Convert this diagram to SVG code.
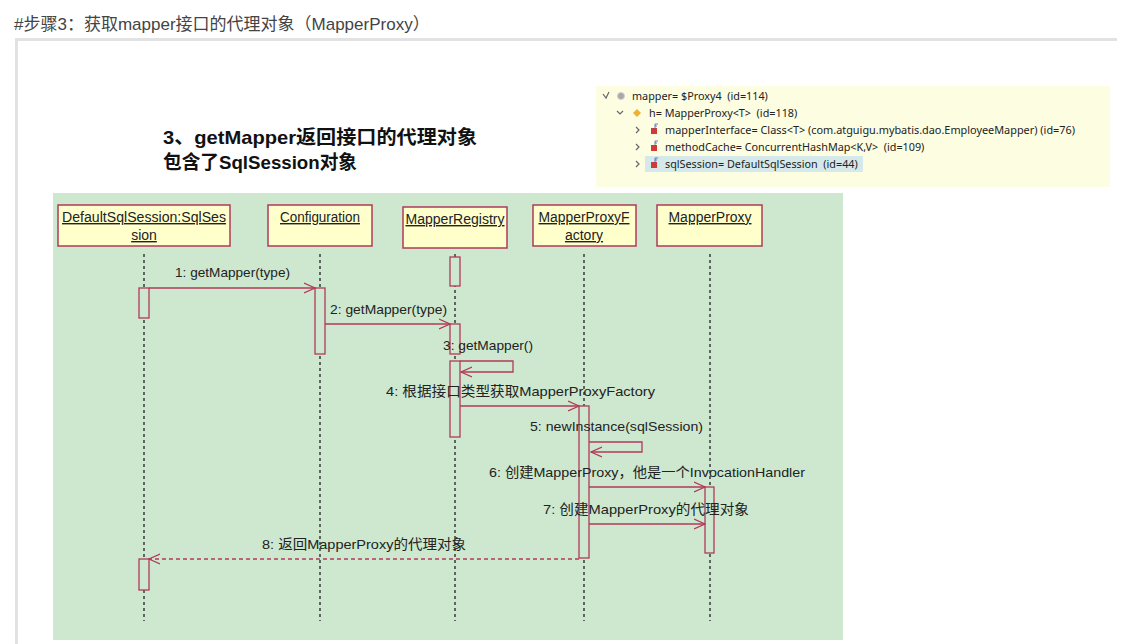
<svg xmlns="http://www.w3.org/2000/svg" width="1133" height="644" viewBox="0 0 1133 644">
<style>
.hdr{font-family:"Liberation Sans","Noto Sans CJK SC",sans-serif;font-size:17px;fill:#444}
.ttl{font-family:"Liberation Sans","Noto Sans CJK SC",sans-serif;font-size:19px;font-weight:bold;fill:#111}
.dbg{font-family:"Noto Sans","Open Sans",sans-serif;font-size:10.8px;fill:#222;white-space:pre}
.head rect{fill:#ffffcc;stroke:#b03a5b;stroke-width:1.5}
.head text{font-family:"Liberation Sans",sans-serif;font-size:14px;fill:#222;text-anchor:middle;text-decoration:underline}
.life{stroke:#222;stroke-width:1.3;stroke-dasharray:3,3;fill:none}
.bar{fill:#cde8cf;stroke:#b03a5b;stroke-width:1.3}
.msg{stroke:#b03a5b;stroke-width:1.3;fill:none}
.ret{stroke:#b03a5b;stroke-width:1.3;fill:none;stroke-dasharray:4,3}
.lbl{font-family:"Liberation Sans","Noto Sans CJK SC",sans-serif;font-size:13.5px;fill:#222}
.chev{fill:none;stroke:#666;stroke-width:1.2}
</style>
<defs>
<marker id="open" viewBox="0 0 12 12" refX="11" refY="6" markerWidth="12" markerHeight="12" markerUnits="userSpaceOnUse" orient="auto">
<path d="M0,1 L11,6 L0,11" fill="none" stroke="#b03a5b" stroke-width="1.3"/>
</marker>
<g id="fld">
<rect x="0" y="-3" width="6" height="6" fill="#d23a3a"/>
<path d="M4,-7 V-2 M4,-7 H7 M4,-5 H6" stroke="#3a5fc0" stroke-width="0.8" fill="none"/>
</g>
</defs>
<rect width="1133" height="644" fill="#ffffff"/>
<text class="hdr" x="14" y="30">#步骤3：获取mapper接口的代理对象（MapperProxy）</text>
<path d="M16.5,644 V39.5 H1117" fill="none" stroke="#e2e2e2" stroke-width="3"/>
<g id="title">
<text class="ttl" x="163" y="144" textLength="314" lengthAdjust="spacingAndGlyphs">3、getMapper返回接口的代理对象</text>
<text class="ttl" x="163" y="169" textLength="194" lengthAdjust="spacingAndGlyphs">包含了SqlSession对象</text>
</g>
<g id="debug-panel">
<rect x="596" y="86" width="514" height="101" fill="#fdfde2"/>
<rect x="645" y="156" width="218" height="16" fill="#d5e9ea"/>
<path class="chev" d="M603,94 L606,98 L609,92"/>
<circle cx="621" cy="96" r="3.5" fill="#a8a8a8" stroke="#d0d0d0" stroke-width="1"/>
<text class="dbg" x="632" y="100" xml:space="preserve">mapper= $Proxy4  (id=114)</text>
<path class="chev" d="M617,111 L620,114 L623,111"/>
<path d="M637,109 L641,113 L637,117 L633,113 Z" fill="#f0b030"/>
<text class="dbg" x="649" y="117" xml:space="preserve">h= MapperProxy&lt;T&gt;  (id=118)</text>
<path class="chev" d="M636,127 L639,130 L636,133"/>
<use href="#fld" x="651" y="131"/>
<text class="dbg" x="665" y="134" textLength="410" lengthAdjust="spacingAndGlyphs">mapperInterface= Class&lt;T&gt; (com.atguigu.mybatis.dao.EmployeeMapper) (id=76)</text>
<path class="chev" d="M636,144 L639,147 L636,150"/>
<use href="#fld" x="651" y="148"/>
<text class="dbg" x="665" y="151" xml:space="preserve">methodCache= ConcurrentHashMap&lt;K,V&gt;  (id=109)</text>
<path class="chev" d="M636,161 L639,164 L636,167"/>
<use href="#fld" x="651" y="165"/>
<text class="dbg" x="665" y="168" xml:space="preserve">sqlSession= DefaultSqlSession  (id=44)</text>
</g>
<rect x="53" y="193" width="790" height="447" fill="#cde8cf"/>
<g id="lifelines">
<line class="life" x1="144" y1="254" x2="144" y2="621"/>
<line class="life" x1="320" y1="254" x2="320" y2="621"/>
<line class="life" x1="455" y1="254" x2="455" y2="621"/>
<line class="life" x1="584" y1="254" x2="584" y2="621"/>
<line class="life" x1="710" y1="254" x2="710" y2="621"/>
</g>
<g id="n-session" class="head">
<rect x="58" y="205" width="172" height="41"/>
<text x="144" y="222" textLength="164" lengthAdjust="spacingAndGlyphs">DefaultSqlSession:SqlSes</text>
<text x="144" y="240">sion</text>
</g>
<g id="n-configuration" class="head">
<rect x="268" y="205" width="104" height="41"/>
<text x="320" y="222" textLength="80" lengthAdjust="spacingAndGlyphs">Configuration</text>
</g>
<g id="n-registry" class="head">
<rect x="403" y="207" width="104" height="41"/>
<text x="455" y="224" textLength="99" lengthAdjust="spacingAndGlyphs">MapperRegistry</text>
</g>
<g id="n-factory" class="head">
<rect x="533" y="205" width="103" height="41"/>
<text x="584" y="222" textLength="91" lengthAdjust="spacingAndGlyphs">MapperProxyF</text>
<text x="584" y="240">actory</text>
</g>
<g id="n-proxy" class="head">
<rect x="657" y="205" width="105" height="41"/>
<text x="710" y="222" textLength="83" lengthAdjust="spacingAndGlyphs">MapperProxy</text>
</g>
<g id="activations">
<rect class="bar" x="139" y="288" width="10" height="30"/>
<rect class="bar" x="139" y="559" width="10" height="31"/>
<rect class="bar" x="315" y="288" width="10" height="66"/>
<rect class="bar" x="450" y="257" width="10" height="29"/>
<rect class="bar" x="450" y="324" width="10" height="30"/>
<rect class="bar" x="450" y="361" width="10" height="76"/>
<rect class="bar" x="579" y="406" width="10" height="152"/>
<rect class="bar" x="705" y="487" width="9" height="66"/>
</g>
<g id="connectors">
<line class="msg" x1="149" y1="288" x2="315" y2="288" marker-end="url(#open)"/>
<line class="msg" x1="325" y1="324" x2="450" y2="324" marker-end="url(#open)"/>
<polyline class="msg" points="460,361 513,361 513,372 461,372" marker-end="url(#open)"/>
<line class="msg" x1="460" y1="406" x2="579" y2="406" marker-end="url(#open)"/>
<polyline class="msg" points="589,442 642,442 642,452 591,452" marker-end="url(#open)"/>
<line class="msg" x1="589" y1="487" x2="705" y2="487" marker-end="url(#open)"/>
<line class="msg" x1="589" y1="524" x2="705" y2="524" marker-end="url(#open)"/>
<line class="ret" x1="579" y1="559" x2="149" y2="559" marker-end="url(#open)"/>
</g>
<g id="labels">
<text class="lbl" x="175" y="277" textLength="115" lengthAdjust="spacingAndGlyphs">1: getMapper(type)</text>
<text class="lbl" x="330" y="314" textLength="117" lengthAdjust="spacingAndGlyphs">2: getMapper(type)</text>
<text class="lbl" x="443" y="350" textLength="90" lengthAdjust="spacingAndGlyphs">3: getMapper()</text>
<text class="lbl" x="386" y="396" textLength="269" lengthAdjust="spacingAndGlyphs">4: 根据接口类型获取MapperProxyFactory</text>
<text class="lbl" x="530" y="431" textLength="173" lengthAdjust="spacingAndGlyphs">5: newInstance(sqlSession)</text>
<text class="lbl" x="489" y="477" textLength="316" lengthAdjust="spacingAndGlyphs">6: 创建MapperProxy，他是一个InvocationHandler</text>
<text class="lbl" x="543" y="514" textLength="206" lengthAdjust="spacingAndGlyphs">7: 创建MapperProxy的代理对象</text>
<text class="lbl" x="262" y="549" textLength="204" lengthAdjust="spacingAndGlyphs">8: 返回MapperProxy的代理对象</text>
</g>
</svg>
